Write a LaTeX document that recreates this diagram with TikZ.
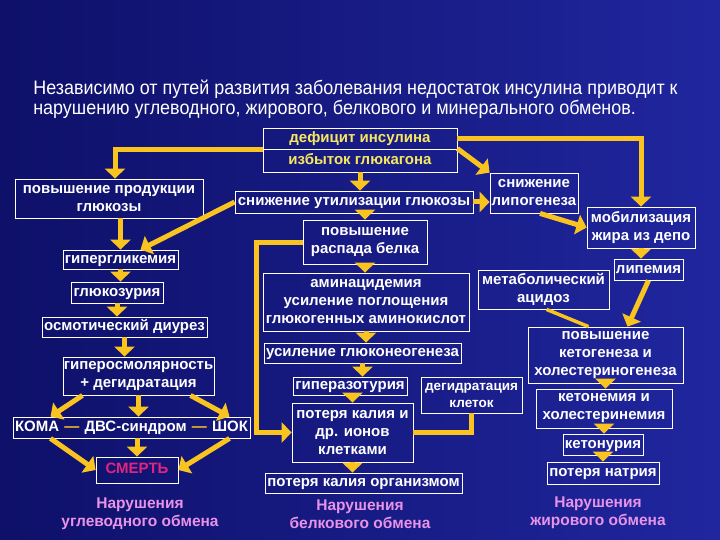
\documentclass[tikz,border=0pt]{standalone}
\usepackage{fontspec}
\setmainfont{Liberation Sans}
\newfontfamily\titlefont[FakeStretch=0.92]{Liberation Sans}
\usetikzlibrary{arrows.meta}
\definecolor{bgDark}{RGB}{14,16,105}
\definecolor{bgLight}{RGB}{32,38,158}
\definecolor{arrowYellow}{RGB}{250,196,32}
\definecolor{textYellow}{RGB}{246,232,96}
\definecolor{deathPink}{RGB}{226,36,128}
\definecolor{groupPink}{RGB}{232,146,232}

\begin{document}
\begin{tikzpicture}[x=1pt, y=-1pt, semithick]
	\tikzstyle{block} = [draw=white, line width=0.8pt, rectangle, inner sep=0pt, align=center, text=white, font={\fontsize{15}{18}\selectfont\bfseries}]
	\tikzstyle{lineBlock} = [block, text height=11pt, text depth=3.5pt]
	\tikzstyle{blockEdgePortion} = [arrowYellow, line width=5pt];
	\tikzstyle{blockEdge} = [blockEdgePortion, -{Triangle[width=20pt,length=10pt]}];
	\tikzstyle{blockLine} = [arrowYellow, line width=3.5pt];
	\tikzstyle{groupLabel} = [text=groupPink, align=center, font={\fontsize{15.5}{18}\selectfont\bfseries}];

	\shade[left color=bgDark, right color=bgLight] (0,0) rectangle (720,540);
	\useasboundingbox (0,0) rectangle (720,540);

	\node[anchor=north west, inner sep=0pt, align=left, text=white, font={\titlefont\fontsize{19.5}{20}\selectfont}] (title) at (33,80)
		{Независимо от путей развития заболевания недостаток инсулина приводит к\\
		 нарушению углеводного, жирового, белкового  и минерального обменов.};

	% top
	\node[lineBlock, text=textYellow, minimum width=194pt, minimum height=21pt] (def) at (360,138.5) {дефицит инсулина};
	\node[lineBlock, text=textYellow, minimum width=194pt, minimum height=23pt] (izb) at (360,160.5) {избыток глюкагона};

	% carbohydrates
	\node[block, minimum width=188pt, minimum height=39pt] (prod) at (109,198.5) {повышение продукции\\глюкозы};
	\node[lineBlock, minimum width=115pt, minimum height=19pt] (gipergl) at (120.5,259.5) {гипергликемия};
	\node[lineBlock, minimum width=92pt, minimum height=21pt] (glyuk) at (117,292.5) {глюкозурия};
	\node[lineBlock, minimum width=165pt, minimum height=20pt] (osmot) at (124.5,327) {осмотический диурез};
	\node[block, minimum width=151pt, minimum height=38pt] (giperosm) at (138.5,376) {гиперосмолярность\\+ дегидратация};
	\node[lineBlock, minimum width=237pt, minimum height=21pt, text width=233pt] (koma) at (131.5,427.5)
		{КОМА\hfill{\color{arrowYellow}—}\hfill ДВС-синдром\hfill{\color{arrowYellow}—}\hfill ШОК};
	\node[lineBlock, text=deathPink, minimum width=82pt, minimum height=26pt] (smert) at (137,470) {СМЕРТЬ};

	% proteins
	\node[lineBlock, minimum width=238pt, minimum height=22pt] (util) at (354,202) {снижение утилизации глюкозы};
	\node[block, minimum width=124pt, minimum height=44pt] (raspad) at (365,242) {повышение\\распада белка};
	\node[block, minimum width=206pt, minimum height=58pt] (amin) at (366,302) {аминацидемия\\усиление поглощения\\глюкогенных аминокислот};
	\node[lineBlock, minimum width=197pt, minimum height=20pt] (glukoneo) at (362.5,353) {усиление глюконеогенеза};
	\node[lineBlock, minimum width=114pt, minimum height=18pt] (giperazot) at (350,386) {гиперазотурия};
	\node[block, minimum width=121pt, minimum height=59pt] (kaliy) at (352.5,432.5) {потеря калия и\\др. ионов\\клетками};
	\node[lineBlock, minimum width=197pt, minimum height=20pt] (kaliyorg) at (363.5,483) {потеря калия организмом};
	\node[block, minimum width=101pt, minimum height=36pt, font={\fontsize{13.5}{17}\selectfont\bfseries}] (degidr) at (471.5,395) {дегидратация\\клеток};

	% fats
	\node[block, minimum width=88pt, minimum height=40pt] (lipogen) at (534,193) {снижение\\липогенеза};
	\node[block, minimum width=108pt, minimum height=41pt] (mobil) at (641,227.5) {мобилизация\\жира из депо};
	\node[lineBlock, minimum width=69pt, minimum height=21pt] (lipem) at (648.5,269.5) {липемия};
	\node[block, minimum width=131pt, minimum height=39pt] (acid) at (543.5,289.5) {метаболический\\ацидоз};
	\node[block, minimum width=155pt, minimum height=56pt] (ketogen) at (605.5,355) {повышение\\кетогенеза и\\холестериногенеза};
	\node[block, minimum width=136pt, minimum height=39pt] (ketonem) at (604,408.5) {кетонемия и\\холестеринемия};
	\node[lineBlock, minimum width=80pt, minimum height=21pt] (ketonur) at (603,444.5) {кетонурия};
	\node[lineBlock, minimum width=112pt, minimum height=22pt] (natr) at (603,473) {потеря натрия};

	\node[groupLabel] (carbCap) at (140,514) {Нарушения\\углеводного обмена};
	\node[groupLabel] (protCap) at (360,514) {Нарушения\\белкового обмена};
	\node[groupLabel] (fatCap) at (598,513) {Нарушения\\жирового обмена};

	\draw[blockEdge] (def.south west) -| ([xshift=6pt]prod.north);
	\draw[blockEdge] (def.east) -| (mobil.north);
	\draw[blockEdge] (raspad.west) -- ++(-46pt,0) |- (kaliy.west);
	\draw[blockEdgePortion] (degidr.south) |- (kaliy.east);
	\draw[blockLine] ([xshift=3pt]acid.south) -- ([xshift=-17pt]ketogen.north);

	\path[blockEdge]
	(prod.south -| gipergl.north) edge (gipergl.north)
	(util.west) edge ([xshift=20pt]gipergl.north)
	(gipergl.south) edge (gipergl.south |- glyuk.north)
	(glyuk.south) edge (glyuk.south |- osmot.north)
	(osmot.south) edge (osmot.south |- giperosm.north)
	([xshift=-56pt]giperosm.south) edge ([xshift=-81pt]koma.north)
	(giperosm.south) edge (giperosm.south |- koma.north)
	([xshift=52pt]giperosm.south) edge ([xshift=98pt]koma.north)
	([xshift=-81pt]koma.south) edge (smert.west)
	(smert.north |- koma.south) edge (smert.north)
	([xshift=98pt]koma.south) edge (smert.east)
	(izb.south) edge (izb.south |- util.north)
	(raspad.north |- util.south) edge (raspad.north)
	(raspad.south) edge (raspad.south |- amin.north)
	(amin.south) edge (amin.south |- glukoneo.north)
	(glukoneo.south) edge (glukoneo.south |- giperazot.north)
	(kaliy.north |- giperazot.south) edge (kaliy.north)
	(kaliy.south) edge (kaliy.south |- kaliyorg.north)
	(util.east) edge (util.east -| lipogen.west)
	(izb.north east) edge (lipogen.north west)
	([xshift=6pt]lipogen.south) edge (mobil.west)
	(mobil.south) edge (mobil.south |- lipem.north)
	(lipem.south) edge ([xshift=22pt]ketogen.north)
	(ketogen.south) edge (ketogen.south |- ketonem.north)
	(ketonem.south) edge (ketonem.south |- ketonur.north)
	(ketonur.south) edge (ketonur.south |- natr.north);
\end{tikzpicture}
\end{document}
